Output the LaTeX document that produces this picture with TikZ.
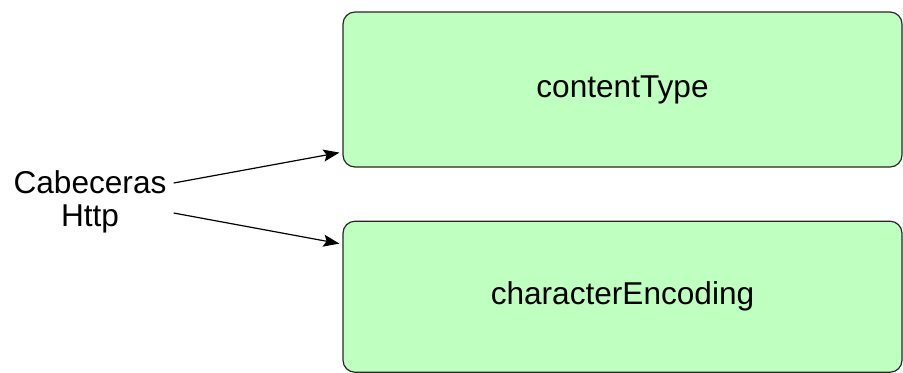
\documentclass[tikz,border=0pt]{standalone}
\usepackage{fontspec}
\setmainfont{Liberation Sans}
\usetikzlibrary{positioning,shapes,arrows.meta}
\def\bw{279.5pt}
\def\bh{77.5pt}
\definecolor{fieldgreen}{RGB}{191,255,192}
\tikzstyle{field}=[draw=black!85,fill=fieldgreen,rounded corners=6pt,minimum width=\bw,minimum height=\bh]
\newcommand{\newField}[3]{\node[field,#3](#1){#2};}
\newcommand{\newLink}[2]{\draw[->] (#1) -- (#2);}

\begin{document}
\begin{tikzpicture}[x=0.5pt,y=-0.5pt,node distance=26.5pt,
    >={Stealth[length=8pt,width=6pt,inset=1.5pt]},line width=0.6pt,
    font=\fontsize{15.8}{16.5}\selectfont
    ]
    \useasboundingbox (0,0) rectangle (903,372);
    \newField{ct}{contentType}{at={(622.5,89.5)}}
    \newField{ce}{characterEncoding}{below=of ct,minimum height=75.5pt}
    \node[align=center](cab) at (90,202) {Cabeceras\\Http};
    \newLink{[yshift=9.5pt]cab.east}{[xshift=-1.5pt,yshift=7.5pt]ct.south west}
    \newLink{[yshift=-5.5pt]cab.east}{[xshift=-1.5pt,yshift=-11.5pt]ce.north west}
  \end{tikzpicture}
\end{document}
